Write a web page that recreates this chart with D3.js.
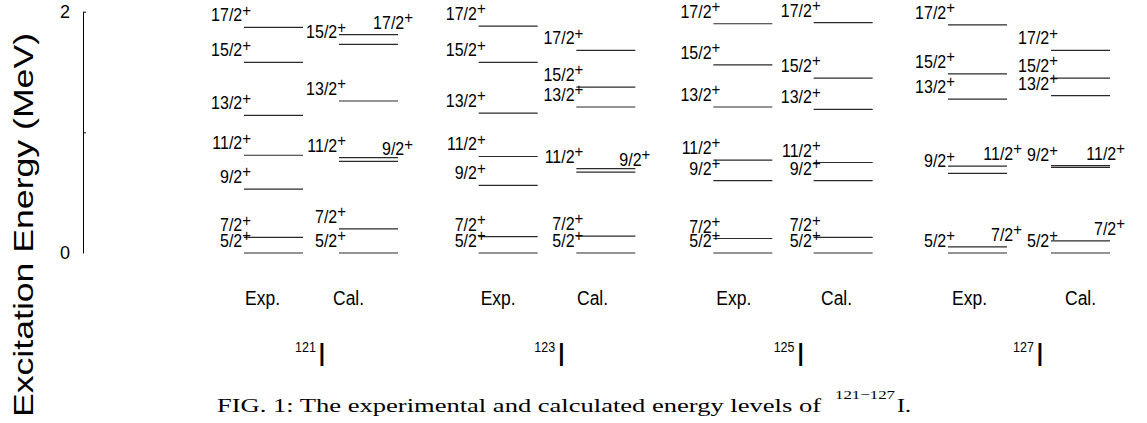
<!DOCTYPE html>
<html>
<head>
<meta charset="utf-8">
<title>Energy levels of 121-127I</title>
<style>
  body { margin: 0; background: #fff; }
  svg { display: block; }
  text { font-family: "Liberation Sans", Arial, sans-serif; fill: #000; }
  text.serif { font-family: "Liberation Serif", "Times New Roman", serif; }
</style>
</head>
<body>
<script src="https://cdn.jsdelivr.net/npm/d3@7/dist/d3.min.js"></script>
<script>
// level data (MeV), spins in the same order for every column
var isotopes = ["121", "123", "125", "127"];
var spins = ["5/2", "7/2", "9/2", "11/2", "13/2", "15/2", "17/2"];

var exp121 = [0, 0.13, 0.53, 0.81, 1.14, 1.58, 1.87];
var cal121 = [0, 0.20, 0.76, 0.79, 1.26, 1.73, 1.81];
var exp123 = [0, 0.135, 0.56, 0.80, 1.16, 1.58, 1.88];
var cal123 = [0, 0.14, 0.67, 0.70, 1.21, 1.375, 1.68];
var exp125 = [0, 0.12, 0.60, 0.77, 1.21, 1.56, 1.90];
var cal125 = [0, 0.13, 0.60, 0.75, 1.19, 1.45, 1.91];
var exp127 = [0, 0.05, 0.66, 0.72, 1.275, 1.485, 1.89];
var cal127 = [0, 0.10, 0.71, 0.725, 1.305, 1.45, 1.68];

var expLevels = [exp121, exp123, exp125, exp127];
var calLevels = [cal121, cal123, cal125, cal127];

// spins whose label sits at the right end of the line
var expRight = [[], [], [], ["7/2", "11/2"]];
var calRight = [["9/2", "17/2"], ["9/2"], [], ["7/2", "11/2"]];

var yTicks = [0, 1, 2];
var yTickText = ["0", "", "2"];

var width = 1147, height = 423;
var svg = d3.select("body").append("svg")
    .attr("width", width)
    .attr("height", height);

var y = d3.scaleLinear().domain([0, 2]).range([253, 11.7]);
var xExp = d3.scaleLinear().domain([0, 3]).range([244, 948]);
var xCal = d3.scaleLinear().domain([0, 3]).range([339, 1051]);
// header / isotope label positions
var xExpHead = d3.scaleLinear().domain([0, 3]).range([245, 952]);
var xCalHead = d3.scaleLinear().domain([0, 3]).range([333, 1065]);
var xIso = d3.scaleLinear().domain([0, 3]).range([295, 1013]);
var lineW = 59;

// y axis
var yAxis = d3.axisLeft(y)
    .tickValues(yTicks)
    .tickFormat(function(d, i) { return yTickText[i]; })
    .tickSizeInner(-3)
    .tickSizeOuter(0)
    .tickPadding(13);

var ax = svg.append("g")
    .attr("transform", "translate(83,0)")
    .call(yAxis);
ax.select(".domain").attr("stroke", "#000").attr("stroke-width", 1);
ax.selectAll(".tick line").attr("stroke", "#000")
    .filter(function(d) { return d === 0; }).remove();
ax.selectAll(".tick text")
    .attr("font-size", 18)
    .attr("fill", "#000");

svg.append("text")
    .attr("transform", "translate(33,225) rotate(-90)")
    .attr("text-anchor", "middle")
    .attr("font-size", 28)
    .attr("textLength", 384)
    .attr("lengthAdjust", "spacingAndGlyphs")
    .text("Excitation Energy (MeV)");

// build one record per level
var levels = [];
isotopes.forEach(function(iso, g) {
    spins.forEach(function(s, k) {
        levels.push({ g: g, kind: "exp", spin: s, e: expLevels[g][k],
                      right: expRight[g].indexOf(s) >= 0 });
        levels.push({ g: g, kind: "cal", spin: s, e: calLevels[g][k],
                      right: calRight[g].indexOf(s) >= 0 });
    });
});

function x0(d) { return d.kind === "exp" ? xExp(d.g) : xCal(d.g); }

svg.selectAll("line.level")
    .data(levels)
    .enter()
    .append("line")
    .attr("class", "level")
    .attr("x1", function(d) { return x0(d); })
    .attr("x2", function(d) { return x0(d) + lineW; })
    .attr("y1", function(d) { return y(d.e); })
    .attr("y2", function(d) { return y(d.e); })
    .attr("stroke", "#2a2a2a")
    .attr("stroke-width", 1.2);

var lab = svg.selectAll("text.lab")
    .data(levels)
    .enter()
    .append("text")
    .attr("class", "lab")
    .attr("text-anchor", "end")
    .attr("font-size", 16)
    .attr("transform", function(d) {
        var tx = d.right ? x0(d) + lineW + 15 : x0(d) + 7;
        return "translate(" + tx + "," + (y(d.e) - 6) + ") scale(1,1.15)";
    });
lab.append("tspan").text(function(d) { return d.spin; });
lab.append("tspan")
    .attr("font-size", 15)
    .attr("dy", -5)
    .text("+");

// Exp. / Cal. headers and isotope names
isotopes.forEach(function(iso, g) {
    svg.append("text")
        .attr("transform", "translate(" + xExpHead(g) + ",305) scale(1,1.2)")
        .attr("font-size", 17.5)
        .text("Exp.");
    svg.append("text")
        .attr("transform", "translate(" + xCalHead(g) + ",305) scale(1,1.2)")
        .attr("font-size", 17.5)
        .text("Cal.");

    var t = svg.append("text")
        .attr("transform", "translate(" + xIso(g) + ",366) scale(1,1.12)");
    t.append("tspan")
        .attr("font-size", 12.5)
        .attr("dy", -12.5)
        .text(iso);
    t.append("tspan")
        .attr("font-size", 30)
        .attr("dx", 2)
        .attr("dy", 12.5)
        .text("I");
});

// caption
svg.append("text")
    .attr("class", "serif")
    .attr("x", 217)
    .attr("y", 412)
    .attr("font-size", 19)
    .attr("textLength", 604)
    .attr("lengthAdjust", "spacingAndGlyphs")
    .text("FIG. 1: The experimental and calculated energy levels of");
svg.append("text")
    .attr("class", "serif")
    .attr("x", 835)
    .attr("y", 399)
    .attr("font-size", 13)
    .attr("textLength", 60)
    .attr("lengthAdjust", "spacingAndGlyphs")
    .text("121\u2212127");
svg.append("text")
    .attr("class", "serif")
    .attr("x", 897)
    .attr("y", 412)
    .attr("font-size", 19)
    .attr("textLength", 14)
    .attr("lengthAdjust", "spacingAndGlyphs")
    .text("I.");
</script>
</body>
</html>
